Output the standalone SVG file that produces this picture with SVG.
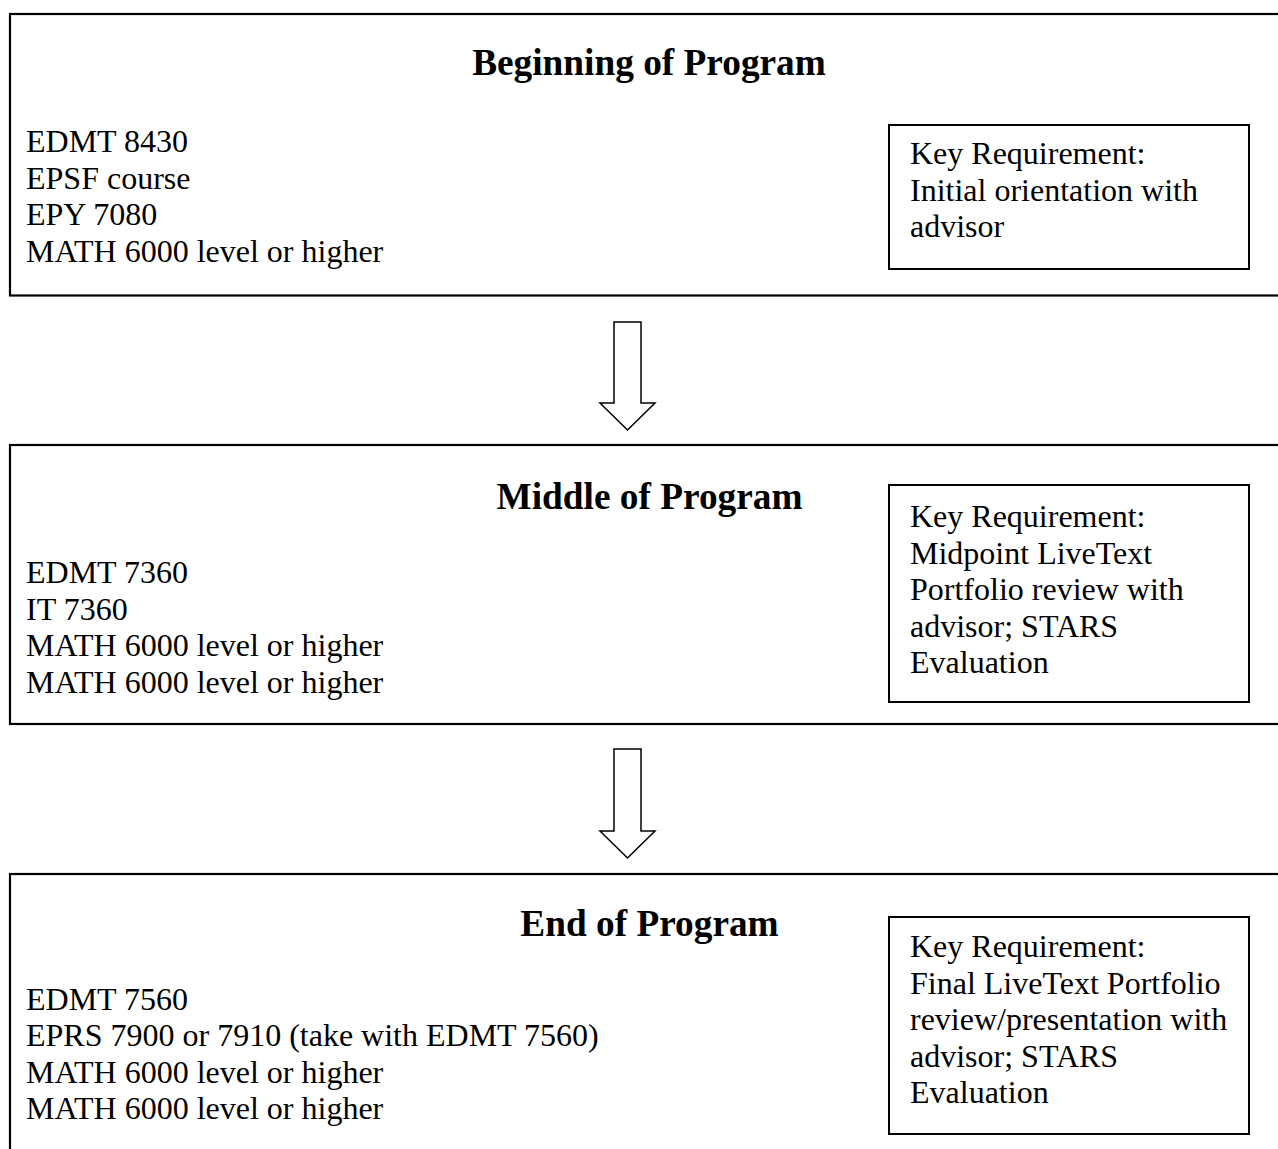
<svg xmlns="http://www.w3.org/2000/svg" width="1278" height="1149" viewBox="0 0 1278 1149">
<style>
.frame{fill:none;stroke:#000;stroke-width:2.2}
.key{fill:none;stroke:#000;stroke-width:2}
.arrow{fill:#fff;stroke:#000;stroke-width:1.5;stroke-linejoin:miter}
text{font-family:"Liberation Serif","Times New Roman",serif;fill:#000}
.t{font-size:37.3px;font-weight:bold;text-anchor:middle}
.b{font-size:32px}
</style>
<rect width="1278" height="1149" fill="#fff"/>
<g id="beginning">
<rect class="frame" x="10" y="14" width="1290" height="281.5"/>
<text class="t" x="649" y="75">Beginning of Program</text>
<text class="b" x="26"><tspan x="26" y="152">EDMT 8430</tspan><tspan x="26" y="188.5">EPSF course</tspan><tspan x="26" y="225">EPY 7080</tspan><tspan x="26" y="261.5">MATH 6000 level or higher</tspan></text>
<rect class="key" x="889" y="125" width="360" height="144"/>
<text class="b"><tspan x="910" y="164">Key Requirement:</tspan><tspan x="910" y="200.5">Initial orientation with</tspan><tspan x="910" y="237">advisor</tspan></text>
</g>
<g id="middle">
<rect class="frame" x="10" y="445" width="1290" height="279"/>
<text class="t" x="649.5" y="509">Middle of Program</text>
<text class="b"><tspan x="26" y="583">EDMT 7360</tspan><tspan x="26" y="619.5">IT 7360</tspan><tspan x="26" y="656">MATH 6000 level or higher</tspan><tspan x="26" y="692.5">MATH 6000 level or higher</tspan></text>
<rect class="key" x="889" y="485" width="360" height="217"/>
<text class="b"><tspan x="910" y="527">Key Requirement:</tspan><tspan x="910" y="563.5">Midpoint LiveText</tspan><tspan x="910" y="600">Portfolio review with</tspan><tspan x="910" y="636.5">advisor; STARS</tspan><tspan x="910" y="673">Evaluation</tspan></text>
</g>
<g id="end">
<rect class="frame" x="10" y="874" width="1290" height="300"/>
<text class="t" x="649.5" y="936">End of Program</text>
<text class="b"><tspan x="26" y="1009.5">EDMT 7560</tspan><tspan x="26" y="1046">EPRS 7900 or 7910 (take with EDMT 7560)</tspan><tspan x="26" y="1082.5">MATH 6000 level or higher</tspan><tspan x="26" y="1119">MATH 6000 level or higher</tspan></text>
<rect class="key" x="889" y="917" width="360" height="217"/>
<text class="b"><tspan x="910" y="957">Key Requirement:</tspan><tspan x="910" y="993.5">Final LiveText Portfolio</tspan><tspan x="910" y="1030">review/presentation with</tspan><tspan x="910" y="1066.5">advisor; STARS</tspan><tspan x="910" y="1103">Evaluation</tspan></text>
</g>
<g id="connectors">
<polygon class="arrow" points="614,322 641,322 641,403 655,403 627.5,430 600,403 614,403"/>
<polygon class="arrow" points="614,749 641,749 641,831 655,831 627.5,858 600,831 614,831"/>
</g>
</svg>
